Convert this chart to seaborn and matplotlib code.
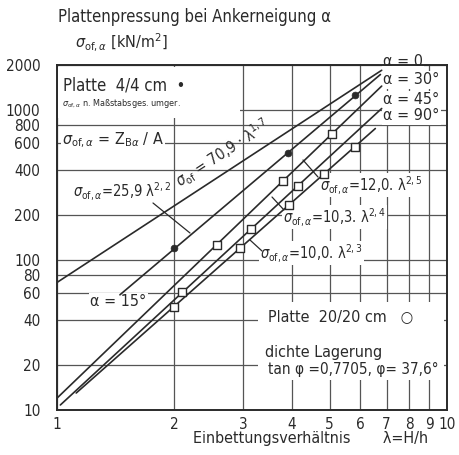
import numpy as np
import pandas as pd
import matplotlib
matplotlib.use("Agg")
import matplotlib.pyplot as plt
from matplotlib.patches import Rectangle
import seaborn as sns

# power-law fits  sigma = coef * lambda ** exp
fit_names = ["70,9 λ^1,7", "25,9 λ^2,2", "12,0 λ^2,5", "10,3 λ^2,4", "10,0 λ^2,3"]
fit_coef = [70.9, 25.9, 12.0, 10.3, 10.0]
fit_exp = [1.7, 2.2, 2.5, 2.4, 2.3]
fit_lam_start = [1.0, 1.45, 1.0, 1.02, 1.12]
fit_lam_end = [6.8, 6.75, 6.8, 6.8, 6.55]

# plate 4/4 cm (converted by model scale law)
small_lam = [2.0, 3.9, 5.8]
small_sigma = [120, 520, 1260]

# plate 20/20 cm
large_lam = [2.0, 2.09, 2.57, 2.95, 3.14, 3.8, 3.93, 4.15, 4.84, 5.06, 5.81]
large_sigma = [49, 61, 127, 120, 161, 338, 233, 313, 376, 691, 570]

x_ticks = [1, 2, 3, 4, 5, 6, 7, 8, 9, 10]
y_ticks = [10, 20, 40, 60, 80, 100, 200, 400, 600, 800, 1000, 2000]

rows = []
for name, c, n, a, b in zip(fit_names, fit_coef, fit_exp, fit_lam_start, fit_lam_end):
    for lam in (a, b):
        rows.append({"fit": name, "lam": lam, "sigma": c * lam ** n})
fits = pd.DataFrame(rows)
small = pd.DataFrame({"lam": small_lam, "sigma": small_sigma})
large = pd.DataFrame({"lam": large_lam, "sigma": large_sigma})

sns.set_theme(style="white")
plt.rcParams["font.family"] = ["DejaVu Sans"]
plt.rcParams["font.stretch"] = "condensed"
plt.rcParams["mathtext.fontset"] = "dejavusans"

INK = "#2a2a2a"
W, H = 459, 455
fig = plt.figure(figsize=(W / 100, H / 100), dpi=100)
AX_L, AX_R, AX_T, AX_B = 57, 447, 65, 410
ax = fig.add_axes([AX_L / W, 1 - AX_B / H, (AX_R - AX_L) / W, (AX_B - AX_T) / H])


def pos(px, py):
    return ((px - AX_L) / (AX_R - AX_L), (AX_B - py) / (AX_B - AX_T))


ax.set_xscale("log")
ax.set_yscale("log")
ax.set_xlim(1, 10)
ax.set_ylim(10, 2000)
ax.xaxis.set_major_locator(matplotlib.ticker.FixedLocator(x_ticks))
ax.yaxis.set_major_locator(matplotlib.ticker.FixedLocator(y_ticks))
ax.xaxis.set_minor_locator(matplotlib.ticker.NullLocator())
ax.yaxis.set_minor_locator(matplotlib.ticker.NullLocator())
ax.set_xticklabels([str(v) for v in x_ticks])
ax.set_yticklabels([str(v) for v in y_ticks])
ax.tick_params(length=0, labelsize=11, colors=INK, pad=5)
ax.tick_params(axis="y", pad=12)
ax.grid(True, color="#555555", lw=0.9)
ax.set_axisbelow(True)
for s in ax.spines.values():
    s.set_color(INK)
    s.set_linewidth(1.4)

# blank panels behind the text blocks
for (x0, y0, x1, y1) in [(58, 67, 240, 118), (258, 302, 444, 380)]:
    a0 = pos(x0, y1)
    a1 = pos(x1, y0)
    ax.add_patch(Rectangle(a0, a1[0] - a0[0], a1[1] - a0[1], transform=ax.transAxes,
                           facecolor="white", edgecolor="none", zorder=1.5))

sns.lineplot(data=fits, x="lam", y="sigma", units="fit", estimator=None, sort=False,
             color=INK, lw=1.2, ax=ax, zorder=3, legend=False)
sns.scatterplot(data=small, x="lam", y="sigma", color=INK, s=24, edgecolor=INK,
                linewidth=0.5, marker="o", ax=ax, zorder=4, legend=False)
sns.scatterplot(data=large, x="lam", y="sigma", color="white", s=28, edgecolor=INK,
                linewidth=1.0, marker="s", ax=ax, zorder=4, legend=False)
ax.set_xlabel("")
ax.set_ylabel("")

box = dict(facecolor="white", edgecolor="none", pad=1.0)


def label(px, py, s, size=10.5, ha="left", rot=0, bbox=True, **kw):
    x, y = pos(px, py)
    ax.text(x, y, s, transform=ax.transAxes, ha=ha, va="center", fontsize=size,
            color=INK, rotation=rot, rotation_mode="anchor", clip_on=False,
            bbox=box if bbox else None, zorder=2.5, **kw)


def leader(p0, p1):
    a, b = pos(*p0), pos(*p1)
    ax.plot([a[0], b[0]], [a[1], b[1]], transform=ax.transAxes, color=INK, lw=0.9,
            zorder=2.6, clip_on=False)


# headings
label(58, 17, "Plattenpressung bei Ankerneigung α", size=12, bbox=False)
label(75, 42, r"$\sigma_{\mathrm{of},\alpha}$ [kN/m$^2$]", size=11.5, bbox=False)
label(193, 438, "Einbettungsverhältnis       λ=H/h", size=11.5, bbox=False)

# inclination labels at the line ends
label(383, 62, "α = 0", size=11.5)
label(383, 80, "α = 30°", size=11.5)
label(383, 100, "α = 45°", size=11.5)
label(383, 116, "α = 90°", size=11.5)
label(90, 302, "α = 15°", size=11.5)

# notes on the plates and the soil
label(63, 86, "Platte  4/4 cm  •", size=12)
label(62, 104, r"$\sigma_{\mathrm{of},\alpha}$ n. Maßstabsges. umger.", size=6.5)
label(62, 140, r"$\sigma_{\mathrm{of},\alpha}$ = Z$_{\mathrm{B}\alpha}$ / A", size=11.5)
label(268, 318, "Platte  20/20 cm   ○", size=11.5)
label(265, 352, "dichte Lagerung", size=11.5)
label(268, 369, "tan φ =0,7705, φ= 37,6°", size=11)

# fit equations
label(223, 153, r"$\sigma_{\mathrm{of}}$ = 70,9 · λ$^{1,7}$", size=11, ha="center", rot=33, bbox=False)
label(73, 191, r"$\sigma_{\mathrm{of},\alpha}$=25,9 λ$^{2,2}$", size=10.5)
label(320, 185, r"$\sigma_{\mathrm{of},\alpha}$=12,0. λ$^{2,5}$", size=10.5)
label(283, 217, r"$\sigma_{\mathrm{of},\alpha}$=10,3. λ$^{2,4}$", size=10.5)
label(260, 253, r"$\sigma_{\mathrm{of},\alpha}$=10,0. λ$^{2,3}$", size=10.5)
leader((153, 203), (190, 233))
leader((318, 177), (303, 160))
leader((284, 210), (272, 197))
leader((262, 251), (250, 240))

fig.savefig("out.png", dpi=100, facecolor="white")
